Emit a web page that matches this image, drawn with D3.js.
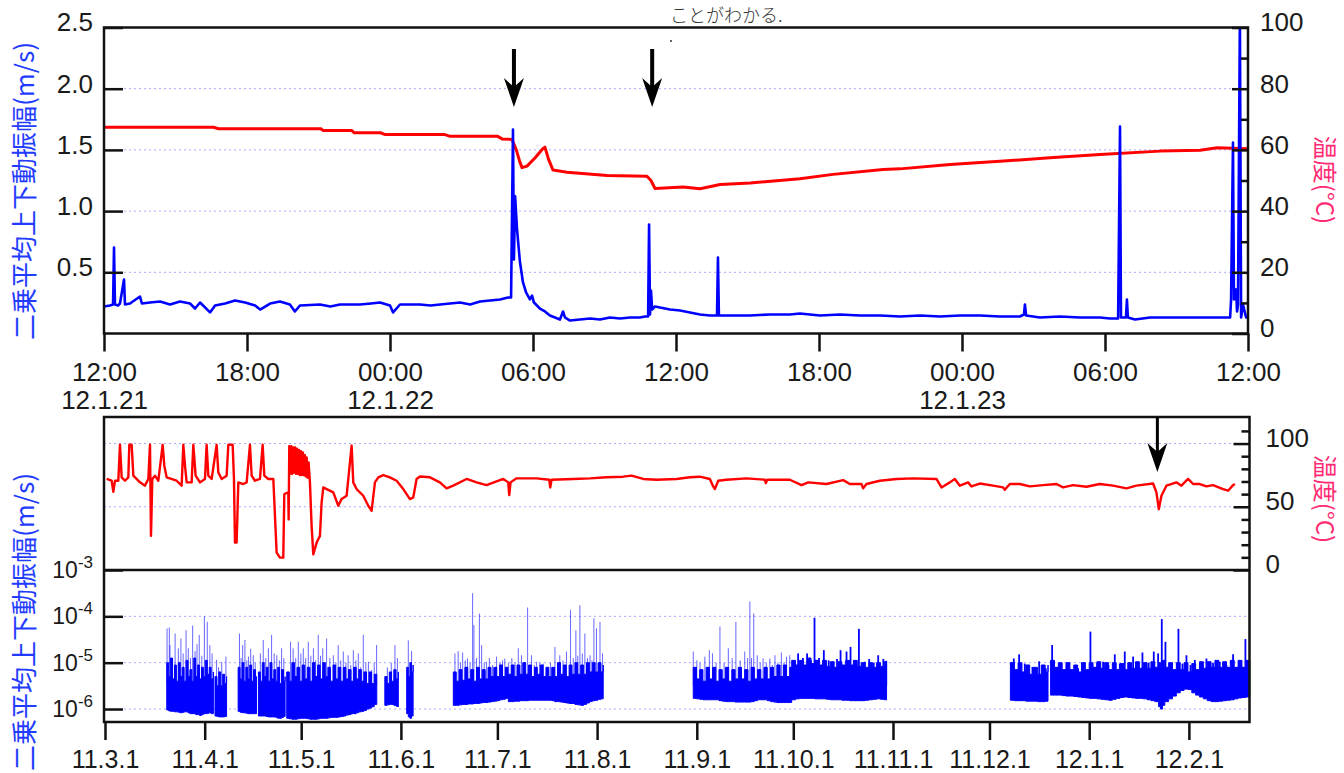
<!DOCTYPE html>
<html>
<head>
<meta charset="utf-8">
<script src="https://cdn.jsdelivr.net/npm/d3@7"></script>
<style>
  body { margin: 0; background: #fff; }
  svg { display: block; }
</style>
</head>
<body>
<svg id="chart" width="1344" height="773"></svg>
<script>
// ---- top panel: 2012-01-21 12:00 -> +48 h ----
var topStart = new Date(2012, 0, 21, 12);
var topTimeLabels = ["12:00", "18:00", "00:00", "06:00", "12:00", "18:00", "00:00", "06:00", "12:00"];
var topDateLabels = ["12.1.21", "", "12.1.22", "", "", "", "12.1.23", "", ""];
var ampTicks = [0.5, 1.0, 1.5, 2.0, 2.5];
var tempTicksTop = [0, 10, 20, 30, 40, 50, 60, 70, 80, 90, 100];

// [hours from start, m/s]
var topAmp = [[0,0.22],[0.25,0.229],[0.38,0.237],[0.42,0.703],[0.46,0.237],[0.59,0.229],[0.67,0.245],[0.84,0.441],[0.88,0.237],[1.09,0.245],[1.51,0.302],[1.59,0.245],[1.93,0.253],[2.35,0.261],[2.77,0.237],[3.19,0.261],[3.61,0.245],[3.82,0.204],[4.03,0.253],[4.45,0.172],[4.66,0.229],[5.08,0.245],[5.5,0.27],[5.92,0.253],[6.34,0.229],[6.55,0.196],[6.97,0.245],[7.38,0.261],[7.8,0.237],[8.01,0.18],[8.22,0.229],[9.06,0.237],[9.5,0.221],[9.9,0.237],[10.74,0.237],[11.2,0.245],[11.58,0.253],[12.0,0.229],[12.13,0.172],[12.42,0.237],[13.26,0.237],[13.7,0.229],[14.1,0.237],[14.52,0.245],[14.94,0.253],[15.36,0.237],[15.78,0.261],[16.2,0.27],[16.62,0.278],[16.95,0.294],[17.08,0.294],[17.16,1.667],[17.2,0.605],[17.25,1.12],[17.33,0.85],[17.45,0.588],[17.58,0.417],[17.71,0.335],[17.87,0.278],[17.96,0.31],[18.04,0.253],[18.29,0.204],[18.5,0.18],[18.71,0.147],[18.92,0.131],[19.13,0.114],[19.26,0.18],[19.34,0.131],[19.55,0.106],[19.97,0.114],[20.39,0.123],[20.81,0.114],[21.23,0.131],[21.65,0.123],[22.07,0.131],[22.49,0.131],[22.7,0.139],[22.83,0.139],[22.87,0.89],[22.91,0.155],[22.95,0.351],[23.0,0.196],[23.12,0.221],[23.33,0.212],[23.75,0.196],[24.17,0.188],[24.59,0.172],[25.01,0.155],[25.43,0.147],[25.72,0.147],[25.76,0.62],[25.8,0.147],[26.27,0.147],[27.11,0.147],[27.94,0.155],[28.78,0.155],[29.2,0.163],[30.04,0.147],[30.88,0.155],[31.72,0.147],[32.56,0.147],[33.4,0.139],[34.24,0.147],[35.08,0.139],[35.92,0.147],[36.76,0.147],[37.59,0.139],[38.43,0.139],[38.6,0.155],[38.64,0.237],[38.69,0.147],[39.27,0.131],[40.11,0.139],[40.95,0.131],[41.79,0.131],[42.21,0.123],[42.55,0.123],[42.63,1.69],[42.67,0.131],[42.88,0.131],[42.92,0.278],[42.96,0.131],[43.26,0.114],[43.89,0.131],[44.73,0.131],[45.99,0.131],[46.83,0.131],[47.25,0.131],[47.29,0.278],[47.37,1.56],[47.41,0.278],[47.5,0.36],[47.54,0.18],[47.58,0.237],[47.66,2.6],[47.71,0.131],[47.79,0.237],[47.92,0.131],[48,0.131]];

// [hours from start, deg C]
var topTemp = [[0,67.4],[4.6,67.4],[4.8,66.9],[9.1,66.9],[9.2,66.3],[10.4,66.3],[10.5,65.6],[11.6,65.6],[11.8,65.0],[14.3,65.0],[14.5,64.5],[16.5,64.5],[16.7,63.6],[17.12,63.4],[17.3,60.0],[17.45,56.0],[17.54,54.2],[17.75,54.7],[18.1,57.5],[18.4,60.3],[18.5,60.9],[18.65,57.0],[18.84,53.4],[19.43,52.7],[21.11,51.6],[22.78,51.4],[22.95,50.0],[23.12,47.4],[24.3,47.9],[25.01,47.3],[25.85,48.7],[27.11,49.2],[29.2,50.6],[30.59,52.0],[32.69,53.6],[33.4,53.8],[35.5,55.2],[37.59,56.3],[39.69,57.4],[41.79,58.5],[44.31,59.6],[45.99,59.9],[46.7,60.7],[48,60.4]];

var arrowHours = [17.2, 23.0];

// ---- bottom panel: 2011-03-01 -> +356 days ----
var longStart = new Date(2011, 2, 1);
var longTickLabels = ["11.3.1", "11.4.1", "11.5.1", "11.6.1", "11.7.1", "11.8.1", "11.9.1", "11.10.1", "11.11.1", "11.12.1", "12.1.1", "12.2.1"];
var logTicks = [-3, -4, -5, -6];
var tempTicksLong = [0, 10, 20, 30, 40, 50, 60, 70, 80, 90, 100, 110];

// [days from start, deg C]
var longTemp = [[0.52,72],[2.07,70.6],[2.59,61.9],[3.11,70.6],[4.14,70.6],[4.66,99],[5.18,73.3],[6.22,70.6],[7.25,73.3],[7.56,99],[8.29,99],[8.81,74.6],[10.88,69.3],[12.43,66.7],[13.47,72],[13.99,99],[14.3,27],[14.71,72],[15.54,74.6],[16.58,70.6],[17.93,99],[18.44,82.5],[19.17,73.3],[22.28,70.6],[23.83,66.7],[24.35,99],[24.87,82.5],[25.39,69.3],[26.94,69.3],[27.46,99],[28.18,74.6],[29.53,69.3],[31.08,72],[31.6,99],[32.12,74.6],[33.16,72],[34.71,99],[35.23,77.2],[36.27,72],[37.82,74.6],[38.34,99],[39.69,99],[40.1,72],[40.41,21.7],[40.93,21.7],[41.45,69.3],[43.0,68],[44.04,69.3],[45.07,99],[45.59,74.6],[46.63,70.6],[48.18,72],[49.01,99],[49.53,74.6],[50.77,72],[52.33,72],[53.36,13.8],[54.4,9.8],[55.43,9.8],[55.75,60.1],[56.99,61.4],[57.1,40],[57.2,70],[57.3,98],[57.6,76],[57.9,98],[58.2,76],[58.5,97],[58.8,77],[59.1,97],[59.4,76],[59.7,96],[60.0,76],[60.3,95],[60.6,75],[60.9,94],[61.2,75],[61.5,93],[61.8,75],[62.1,91],[62.4,74],[62.7,89],[63.0,73],[63.3,85],[63.72,69.3],[64.24,34.9],[64.76,12.4],[65.8,21.7],[66.83,27],[67.35,53.4],[67.87,65.3],[68.91,64],[70.98,61.4],[72.53,50.8],[73.57,56.1],[75.12,58.7],[76.68,98.4],[77.19,69.3],[78.23,64],[80.3,58.7],[81.86,50.8],[82.89,46.8],[83.93,69.3],[84.97,73.3],[86.52,75.1],[88.59,73.3],[90.66,70.6],[92.74,64],[94.81,56.1],[95.84,57.4],[96.88,72],[97.92,74],[101.03,73.3],[104.13,69.3],[106.21,64.6],[108.28,66.7],[112.42,72],[115.53,69.3],[118.64,67.1],[123.82,72],[125.38,69.3],[125.69,59.2],[126.1,69.3],[127.97,72.5],[134.18,72.5],[138.12,71.4],[138.43,65.3],[138.85,71.4],[145.58,72],[150.76,72.5],[155.94,73.3],[161.12,73.8],[163.71,74.6],[167.34,72],[171.49,71.4],[177.7,72],[181.85,73.3],[184.95,73.8],[188.06,72],[189.1,66.1],[189.62,64],[190.65,70.6],[193.24,71.4],[199.46,72.5],[205.16,71.4],[205.47,68.7],[205.89,71.4],[212.93,71.4],[216.56,67.1],[218.63,69.3],[224.33,68],[229.51,71.1],[231.58,68],[235.21,68],[235.72,64.6],[236.76,68],[240.91,70.6],[246.09,72],[251.27,72.5],[258.52,72],[260.08,65.3],[262.67,69.3],[264.22,72],[265.78,66.7],[268.37,69.3],[269.4,66.1],[271.99,68.4],[276.14,66.7],[279.24,65.3],[279.76,63.4],[281.32,68],[284.43,68],[287.53,66.1],[291.68,67.1],[295.83,68],[297.89,65.3],[301.0,67.1],[305.15,65.8],[309.29,68],[313.44,66.7],[317.58,64.6],[320.69,66.7],[325.87,68.4],[326.91,61.4],[327.64,48.1],[328.46,58.7],[330.02,66.7],[333.13,69.3],[334.68,66.7],[336.75,72],[338.31,68],[340.38,68],[342.45,66.1],[344.52,67.1],[347.63,64],[349.18,62.7],[350.74,67.1],[351.3,68]];

// recording blocks: [day, log10 lower edge, log10 top of dense part]
var ampBands = [
  [[19.2,-6.02,-5.0],[19.8,-6.04,-5.3],[20.4,-6.05,-4.9],[21.0,-6.05,-5.35],[21.6,-6.06,-5.05],[22.2,-6.06,-5.4],[22.8,-6.07,-5.0],[23.4,-6.08,-5.3],[24.0,-6.07,-5.1],[24.6,-6.06,-5.4],[25.2,-6.06,-4.95],[25.8,-6.08,-5.3],[26.4,-6.1,-5.15],[27.0,-6.1,-5.4],[27.6,-6.1,-4.9],[28.2,-6.12,-5.3],[28.8,-6.12,-5.05],[29.4,-6.14,-5.35],[30.0,-6.12,-5.1],[30.6,-6.1,-5.3],[31.2,-6.1,-4.95],[31.8,-6.09,-5.25],[32.4,-6.08,-5.1],[33.0,-6.1,-5.35],[33.7,-6.1,-5.2]],
  [[34.2,-6.15,-5.3],[34.8,-6.16,-5.5],[35.4,-6.17,-5.2],[36.0,-6.17,-5.5],[36.6,-6.17,-5.25],[37.2,-6.16,-5.45],[37.8,-6.15,-5.3]],
  [[41.4,-6.05,-5.1],[42.0,-6.07,-5.35],[42.6,-6.08,-5.0],[43.2,-6.08,-5.4],[43.8,-6.09,-5.1],[44.4,-6.1,-5.35],[45.0,-6.1,-5.05],[45.6,-6.1,-5.4],[46.2,-6.1,-5.15],[46.8,-6.1,-5.4],[47.1,-6.1,-5.3]],
  [[47.7,-6.15,-5.2],[48.3,-6.15,-5.4],[48.9,-6.15,-5.0],[49.5,-6.15,-5.3],[50.1,-6.16,-5.1],[50.7,-6.17,-5.4],[51.3,-6.17,-5.0],[51.9,-6.17,-5.35],[52.5,-6.17,-5.15],[53.1,-6.18,-5.4],[53.7,-6.2,-5.1],[54.3,-6.2,-5.45],[54.9,-6.18,-5.15],[55.5,-6.16,-5.4],[56.0,-6.15,-5.3]],
  [[56.5,-6.2,-5.2],[57.3,-6.21,-5.4],[58.1,-6.22,-5.0],[58.9,-6.22,-5.3],[59.7,-6.21,-5.1],[60.5,-6.2,-5.4],[61.3,-6.2,-5.05],[62.1,-6.2,-5.35],[62.9,-6.21,-5.1],[63.7,-6.22,-5.4],[64.5,-6.22,-5.0],[65.3,-6.22,-5.3],[66.1,-6.21,-5.05],[66.9,-6.2,-5.35],[67.7,-6.2,-5.0],[68.5,-6.2,-5.3],[69.3,-6.19,-5.1],[70.1,-6.18,-5.4],[70.9,-6.18,-5.05],[71.7,-6.18,-5.35],[72.5,-6.17,-5.1],[73.3,-6.16,-5.4],[74.1,-6.15,-5.1],[74.9,-6.13,-5.35],[75.7,-6.12,-5.15],[76.5,-6.1,-5.4],[77.3,-6.1,-5.1],[78.1,-6.08,-5.35],[78.9,-6.06,-5.15],[79.7,-6.05,-5.4],[80.5,-6.03,-5.2],[81.3,-6.0,-5.45],[82.1,-5.98,-5.2],[82.9,-5.95,-5.45],[83.7,-5.9,-5.25],[84.5,-5.85,-5.4]],
  [[87.0,-5.92,-5.3],[87.7,-5.91,-5.45],[88.4,-5.9,-5.2],[89.1,-5.9,-5.4],[89.8,-5.92,-5.15],[90.5,-5.94,-5.35],[91.2,-5.95,-5.2]],
  [[93.8,-6.1,-5.1],[94.3,-6.17,-5.3],[94.8,-6.2,-5.0],[95.3,-6.15,-5.2],[95.8,-6.1,-5.05]],
  [[108.3,-5.92,-5.2],[109.2,-5.92,-5.4],[110.1,-5.91,-5.15],[111.0,-5.9,-5.38],[111.9,-5.9,-5.1],[112.8,-5.89,-5.35],[113.7,-5.89,-5.15],[114.6,-5.88,-5.4],[115.5,-5.88,-5.1],[116.4,-5.87,-5.35],[117.3,-5.86,-5.15],[118.2,-5.86,-5.35],[119.1,-5.85,-5.1],[120.0,-5.84,-5.3],[120.9,-5.83,-5.1],[121.8,-5.82,-5.3],[122.7,-5.8,-5.05],[123.6,-5.79,-5.3],[124.5,-5.77,-5.1],[125.3,-5.77,-5.25],[125.4,-5.84,-5.25],[126.3,-5.84,-5.05],[127.2,-5.83,-5.3],[128.1,-5.83,-5.05],[129.0,-5.82,-5.25],[129.9,-5.82,-5.0],[130.8,-5.82,-5.25],[131.7,-5.81,-5.05],[132.6,-5.81,-5.3],[133.5,-5.81,-5.1],[134.4,-5.81,-5.25],[135.3,-5.81,-5.05],[136.2,-5.81,-5.3],[137.1,-5.81,-5.1],[138.0,-5.81,-5.3],[138.9,-5.82,-5.1],[139.8,-5.84,-5.3],[140.7,-5.84,-5.0],[141.6,-5.85,-5.25],[142.5,-5.86,-5.05],[143.4,-5.87,-5.3],[144.3,-5.88,-5.05],[145.2,-5.88,-5.25],[146.1,-5.9,-5.0],[147.0,-5.91,-5.25],[147.9,-5.92,-5.05],[148.8,-5.9,-5.25],[149.7,-5.87,-5.0],[150.6,-5.84,-5.2],[151.5,-5.82,-5.0],[152.4,-5.81,-5.2],[153.3,-5.79,-5.0],[154.2,-5.78,-5.2],[154.9,-5.77,-5.05]],
  [[182.9,-5.77,-5.1],[183.9,-5.78,-5.35],[184.9,-5.79,-5.15],[185.9,-5.8,-5.4],[186.9,-5.8,-5.1],[187.9,-5.8,-5.35],[188.9,-5.8,-5.1],[189.9,-5.8,-5.4],[190.9,-5.82,-5.15],[191.9,-5.83,-5.35],[192.9,-5.84,-5.1],[193.9,-5.84,-5.4],[194.9,-5.84,-5.15],[195.9,-5.85,-5.35],[196.9,-5.85,-5.1],[197.9,-5.85,-5.35],[198.9,-5.85,-5.15],[199.9,-5.85,-5.4],[200.9,-5.84,-5.1],[201.9,-5.82,-5.35],[202.9,-5.8,-5.15],[203.9,-5.8,-5.35],[204.9,-5.8,-5.1],[205.9,-5.82,-5.35],[206.9,-5.84,-5.1],[207.9,-5.85,-5.3],[208.9,-5.86,-5.05],[209.9,-5.86,-5.3],[210.9,-5.86,-5.05],[211.9,-5.86,-5.3],[212.9,-5.86,-5.1],[213.4,-5.86,-5.3],
   [213.5,-5.8,-4.95],[214.7,-5.78,-5.05],[215.9,-5.77,-4.95],[217.1,-5.77,-5.05],[218.3,-5.77,-4.9],[219.5,-5.77,-5.02],[220.7,-5.78,-4.95],[221.9,-5.78,-5.05],[223.1,-5.78,-4.95],[224.3,-5.79,-5.08],[225.5,-5.8,-4.98],[226.7,-5.8,-5.1],[227.9,-5.8,-4.98],[229.1,-5.81,-5.05],[230.3,-5.81,-4.95],[231.5,-5.82,-5.05],[232.7,-5.82,-4.95],[233.9,-5.82,-5.08],[235.1,-5.82,-5.0],[236.3,-5.81,-5.1],[237.5,-5.8,-5.0],[238.7,-5.79,-5.1],[239.9,-5.78,-5.0],[241.1,-5.79,-5.08],[242.3,-5.8,-4.98],[243.0,-5.8,-5.0]],
  [[281.5,-5.81,-5.0],[282.7,-5.82,-5.15],[283.9,-5.82,-5.0],[285.1,-5.82,-5.2],[286.3,-5.83,-5.05],[287.5,-5.83,-5.25],[288.7,-5.83,-5.1],[289.9,-5.84,-5.25],[291.1,-5.84,-5.05],[292.3,-5.83,-5.2],[293.2,-5.81,-5.05]],
  [[294.0,-5.7,-4.95],[295.2,-5.7,-5.1],[296.4,-5.7,-5.0],[297.6,-5.71,-5.15],[298.8,-5.72,-5.0],[300.0,-5.72,-5.15],[301.2,-5.73,-5.05],[302.4,-5.74,-5.2],[303.6,-5.75,-5.0],[304.8,-5.76,-5.15],[306.0,-5.77,-5.0],[307.2,-5.77,-5.1],[308.4,-5.78,-4.98],[309.6,-5.79,-5.12],[310.8,-5.8,-5.0],[312.0,-5.81,-5.15],[313.2,-5.79,-5.0],[314.4,-5.77,-5.15],[315.6,-5.75,-5.02],[316.8,-5.74,-5.15],[318.0,-5.75,-5.0],[319.2,-5.76,-5.12],[320.4,-5.77,-4.98],[321.6,-5.77,-5.12],[322.8,-5.78,-5.0],[324.0,-5.8,-5.12],[325.2,-5.82,-4.98],[326.4,-5.84,-5.1],[327.6,-5.95,-5.0],[328.2,-6.0,-5.1],[328.8,-5.92,-4.95],[329.5,-5.84,-5.1],[330.7,-5.78,-5.0],[331.9,-5.72,-5.15],[333.1,-5.65,-5.0],[334.3,-5.6,-5.15],[335.5,-5.57,-5.0],[336.7,-5.58,-5.2],[337.9,-5.65,-5.02],[339.1,-5.7,-5.15],[340.3,-5.74,-4.98],[341.5,-5.78,-5.12],[342.7,-5.82,-4.98],[343.9,-5.84,-5.1],[345.1,-5.84,-4.95],[346.3,-5.83,-5.1],[347.5,-5.82,-4.98],[348.7,-5.81,-5.1],[349.9,-5.8,-4.95],[351.1,-5.78,-5.1],[352.3,-5.76,-4.95],[353.5,-5.75,-5.1],[354.7,-5.74,-4.95],[355.9,-5.74,-5.05]]
];

// single bursts: [day, log10 peak]
var ampSpikes = [[19.3,-4.26],[20.0,-4.24],[20.2,-4.62],[21.0,-4.9],[21.8,-4.37],[22.8,-4.69],[23.6,-4.48],[24.3,-4.8],[25.2,-4.3],[25.9,-4.69],[26.6,-4.9],[27.25,-4.2],[28.0,-4.75],[28.6,-4.6],[29.3,-4.4],[30.1,-4.85],[30.9,-4.0],[31.8,-4.12],[32.6,-4.62],[33.3,-4.8],
  [34.7,-4.94],[35.3,-5.1],[36.3,-4.98],[37.6,-4.87],
  [41.8,-4.37],[42.3,-4.9],[42.8,-4.62],[43.5,-4.51],[44.1,-4.95],[44.6,-4.87],[45.3,-4.7],[46.1,-4.84],[46.7,-5.0],
  [48.3,-4.8],[49.2,-4.51],[50.0,-4.9],[50.8,-4.69],[51.8,-4.4],[52.6,-4.8],[53.4,-4.84],[54.2,-4.95],[54.9,-4.69],[55.6,-4.9],
  [57.7,-4.55],[58.5,-4.69],[59.3,-4.9],[60.1,-4.55],[60.9,-4.8],[61.65,-4.69],[62.4,-4.9],[63.2,-4.55],[64.0,-4.85],[64.8,-4.69],[65.5,-4.95],[66.3,-4.4],[67.0,-4.85],[67.7,-4.69],[68.9,-4.48],[69.9,-4.9],[71.0,-4.84],[71.8,-5.0],[72.5,-4.62],[73.3,-4.95],[74.1,-4.76],[74.9,-5.0],[75.6,-4.84],[76.4,-5.05],[77.2,-4.73],[78.0,-4.95],[78.75,-4.8],[79.5,-5.1],[80.3,-4.4],[81.1,-5.0],[81.9,-4.98],[82.9,-5.16],[83.7,-5.0],[84.45,-4.62],
  [87.8,-5.1],[89.0,-5.0],[90.15,-4.62],[90.9,-4.9],
  [94.3,-4.52],[95.33,-4.75],
  [108.8,-4.8],[109.8,-4.75],[110.5,-5.0],[111.2,-4.78],[112.0,-4.95],[112.7,-4.91],[113.5,-5.0],[114.3,-3.5],[114.7,-4.19],[115.5,-4.9],[116.4,-3.94],[117.1,-4.62],[117.9,-5.0],[118.6,-4.98],[119.5,-4.9],[120.5,-5.05],[121.75,-4.87],[122.8,-5.0],[123.6,-4.95],[124.3,-4.91],[125.5,-5.0],[126.5,-4.9],[127.5,-5.0],[128.5,-4.69],[129.5,-4.84],[130.5,-5.0],[131.4,-3.81],[132.6,-4.84],[133.5,-5.05],[134.2,-4.98],[135.2,-5.0],[136.3,-5.02],[137.3,-5.1],[138.5,-5.0],[139.9,-4.66],[140.7,-5.0],[141.4,-4.84],[142.4,-4.95],[143.5,-4.76],[144.75,-3.86],[145.6,-4.9],[146.4,-4.3],[147.0,-4.85],[147.65,-3.76],[148.4,-4.8],[149.2,-4.37],[150.0,-4.9],[150.8,-4.84],[151.4,-4.95],[152.0,-4.04],[152.8,-4.26],[153.9,-4.12],[154.7,-4.8],
  [182.9,-4.76],[184.0,-4.95],[185.0,-5.0],[186.5,-4.87],[187.9,-4.73],[188.9,-4.8],[190.0,-5.0],[191.2,-4.22],[192.5,-5.0],[193.8,-4.69],[195.0,-4.9],[196.15,-4.12],[197.5,-4.95],[198.9,-4.76],[199.8,-4.9],[200.5,-3.68],[201.0,-4.9],[201.7,-3.94],[202.8,-4.84],[203.7,-5.0],[204.6,-4.91],[205.6,-5.0],[206.7,-4.91],[207.5,-5.05],[208.3,-4.84],[209.2,-5.0],[210.3,-4.78],[211.1,-5.0],[211.9,-4.87],[212.9,-4.84],
  [215.5,-4.8],[217.0,-4.9],[218.3,-4.8],[219.5,-4.95],[220.6,-4.03],[222.0,-4.9],[223.5,-4.73],[225.0,-4.95],[226.4,-4.98],[227.6,-4.92],[228.7,-4.73],[230.55,-4.76],[231.8,-4.66],[233.0,-4.95],[234.4,-4.27],[236.25,-4.98],[237.6,-4.92],[239.0,-5.0],[240.4,-4.84],[242.0,-4.92],[242.9,-4.96],
  [282.56,-4.91],[284.22,-4.82],[285.98,-5.02],[288.36,-5.09],[290.44,-4.97],[292.51,-5.12],[294.48,-4.62],[296.86,-5.0],[299.0,-5.05],[302.56,-5.12],[304.5,-5.0],[306.39,-4.33],[308.5,-5.0],[310.33,-4.98],[312.0,-5.05],[313.96,-4.82],[315.5,-5.02],[317.06,-4.76],[318.5,-5.0],[319.66,-4.87],[321.0,-5.05],[322.56,-4.78],[324.5,-5.0],[326.08,-4.76],[327.43,-4.8],[328.57,-4.06],[329.71,-4.55],[331.5,-5.0],[333.75,-4.27],[335.0,-5.02],[336.24,-4.84],[337.5,-5.05],[338.83,-4.94],[340.4,-5.05],[342.45,-4.91],[344.5,-5.0],[346.6,-4.98],[348.67,-5.05],[350.74,-4.82],[352.81,-4.98],[354.57,-4.49],[355.71,-5.09]];

var arrowDays = [327.2];

// ------------------------------------------------------------
var svg = d3.select("#chart");
var numFont = "'Liberation Sans', Arial, sans-serif";
var cjkFont = "'Noto Sans CJK JP', 'Noto Sans', sans-serif";
var gridColor = "#a8a8ff";

var P = {left: 104, right: 1248, top: 27.5, bottom: 333.5};
var hr = function(h) { return new Date(topStart.getTime() + h * 3600000); };
var x1 = d3.scaleTime().domain([topStart, hr(48)]).range([P.left, P.right]);
var yAmp = d3.scaleLinear().domain([0, 2.5]).range([P.bottom, P.top]);
var yT1 = d3.scaleLinear().domain([0, 100]).range([P.bottom, P.top]);

var L = {left: 104, right: 1249.5, top: 417, mid: 570, bottom: 722};
var day = function(d) { return new Date(longStart.getTime() + d * 86400000); };
var x2 = d3.scaleTime().domain([longStart, day(356)]).range([105, 1250]);
var yT2 = d3.scaleLinear().domain([0, 121]).range([L.mid, L.top]);
var yLog = d3.scaleLog().domain([Math.pow(10, -6.28), 1e-3]).range([L.bottom, L.mid]);

var defs = svg.append("defs");
defs.append("clipPath").attr("id", "clipTop").append("rect")
  .attr("x", P.left).attr("y", P.top).attr("width", P.right - P.left).attr("height", P.bottom - P.top);

function styleAxis(g, size) {
  g.select(".domain").remove();
  g.selectAll(".tick line").attr("stroke", "#111").attr("stroke-width", 2.5);
  g.selectAll(".tick text").attr("font-family", numFont).attr("font-size", size).attr("fill", "#1a1a1a");
}
function hgrid(y, x0, x1_) {
  svg.append("line").attr("x1", x0).attr("x2", x1_).attr("y1", y).attr("y2", y)
    .attr("stroke", gridColor).attr("stroke-width", 1).attr("stroke-dasharray", "2,3");
}

// header fragment
svg.append("text").attr("x", 670).attr("y", 22).attr("font-family", cjkFont).attr("font-weight", 300)
  .attr("font-size", 18).attr("fill", "#333").text("ことがわかる.");
svg.append("circle").attr("cx", 671).attr("cy", 41).attr("r", 1).attr("fill", "#333");

// ---- top panel ----
[0.5, 1.0, 1.5, 2.0].forEach(function(v) { hgrid(yAmp(v), P.left, P.right); });

var gTop = svg.append("g").attr("clip-path", "url(#clipTop)");
gTop.append("path").datum(topTemp)
  .attr("d", d3.line().x(function(d) { return x1(hr(d[0])); }).y(function(d) { return yT1(d[1]); }))
  .attr("fill", "none").attr("stroke", "#ff0000").attr("stroke-width", 3).attr("stroke-linejoin", "round");
gTop.append("path").datum(topAmp)
  .attr("d", d3.line().x(function(d) { return x1(hr(d[0])); }).y(function(d) { return yAmp(d[1]); }))
  .attr("fill", "none").attr("stroke", "#0000ff").attr("stroke-width", 2.6).attr("stroke-linejoin", "round");

svg.append("rect").attr("x", P.left).attr("y", P.top).attr("width", P.right - P.left).attr("height", P.bottom - P.top)
  .attr("fill", "none").attr("stroke", "#111").attr("stroke-width", 2.5);

var topTickDates = d3.range(0, 49, 6).map(hr);
var gx1 = svg.append("g").attr("transform", "translate(0," + P.bottom + ")")
  .call(d3.axisBottom(x1).tickValues(topTickDates).tickSize(18).tickPadding(11)
    .tickFormat(function(d, i) { return topTimeLabels[i]; }));
styleAxis(gx1, 26);
gx1.selectAll(".tick").append("text")
  .attr("y", 75).attr("fill", "#1a1a1a").attr("font-family", numFont).attr("font-size", 26)
  .attr("text-anchor", "middle")
  .text(function(d, i) { return topDateLabels[i]; });

var gyA = svg.append("g").attr("transform", "translate(" + P.left + ",0)")
  .call(d3.axisLeft(yAmp).tickValues(ampTicks).tickSize(-19).tickPadding(11).tickFormat(d3.format(".1f")));
styleAxis(gyA, 26);
gyA.selectAll(".tick text").attr("dy", "0.13em");

var gyT1 = svg.append("g").attr("transform", "translate(" + P.right + ",0)")
  .call(d3.axisRight(yT1).tickValues(tempTicksTop).tickSize(-16).tickPadding(12)
    .tickFormat(function(d) { return d % 20 === 0 ? d : ""; }));
styleAxis(gyT1, 26);
gyT1.selectAll(".tick line").attr("x2", function(d) { return d % 20 === 0 ? -16 : -7; });
gyT1.selectAll(".tick text").attr("dy", "0.13em");

// ---- bottom panel ----
[50, 100].forEach(function(v) { hgrid(yT2(v), L.left, L.right); });
[-4, -5, -6].forEach(function(e) { hgrid(yLog(Math.pow(10, e)), L.left, L.right); });

svg.append("path").datum(longTemp)
  .attr("d", d3.line().x(function(d) { return x2(day(d[0])); }).y(function(d) { return yT2(d[1]); }))
  .attr("fill", "none").attr("stroke", "#ff0000").attr("stroke-width", 2.4).attr("stroke-linejoin", "round");

var bandArea = d3.area()
  .curve(d3.curveStepAfter)
  .x(function(d) { return x2(day(d[0])); })
  .y0(function(d) { return yLog(Math.pow(10, d[1])); })
  .y1(function(d) { return yLog(Math.pow(10, d[2])); });
svg.append("g").selectAll("path").data(ampBands).enter().append("path")
  .attr("d", bandArea)
  .attr("fill", "#0000ff")
  .attr("stroke", "#0000ff").attr("stroke-width", 1).attr("stroke-linejoin", "miter");

svg.append("g").selectAll("line").data(ampSpikes).enter().append("line")
  .attr("x1", function(d) { return x2(day(d[0])); })
  .attr("x2", function(d) { return x2(day(d[0])); })
  .attr("y1", yLog(Math.pow(10, -5.5)))
  .attr("y2", function(d) { return yLog(Math.pow(10, d[1])); })
  .attr("stroke", "#0000ff")
  .attr("stroke-opacity", function(d) { return d[0] < 213.4 ? 0.6 : 1; })
  .attr("stroke-width", function(d) { return d[0] < 213.4 ? 1 : 1.8; });

svg.append("rect").attr("x", L.left).attr("y", L.top).attr("width", L.right - L.left).attr("height", L.bottom - L.top)
  .attr("fill", "none").attr("stroke", "#111").attr("stroke-width", 2.5);
svg.append("line").attr("x1", L.left).attr("x2", L.right).attr("y1", L.mid).attr("y2", L.mid)
  .attr("stroke", "#111").attr("stroke-width", 2.5);

var monthTicks = d3.timeMonth.range(longStart, day(356));
var gx2 = svg.append("g").attr("transform", "translate(0," + L.bottom + ")")
  .call(d3.axisBottom(x2).tickValues(monthTicks).tickSize(18).tickPadding(10.5)
    .tickFormat(function(d, i) { return longTickLabels[i]; }));
styleAxis(gx2, 25);

var gyL = svg.append("g").attr("transform", "translate(" + L.left + ",0)")
  .call(d3.axisLeft(yLog).tickValues(logTicks.map(function(e) { return Math.pow(10, e); }))
    .tickSize(-19).tickPadding(11).tickFormat(""));
styleAxis(gyL, 23);
gyL.selectAll(".tick text").each(function(d) {
  var t = d3.select(this);
  t.append("tspan").text("10");
  t.append("tspan").attr("dy", -10).attr("font-size", 17).text(String(Math.round(Math.log10(d))));
});

var gyT2 = svg.append("g").attr("transform", "translate(" + L.right + ",0)")
  .call(d3.axisRight(yT2).tickValues(tempTicksLong).tickSize(-16).tickPadding(16)
    .tickFormat(function(d) { return d % 50 === 0 ? d : ""; }));
styleAxis(gyT2, 26);
gyT2.selectAll(".tick line").attr("x2", function(d) { return d % 50 === 0 ? -16 : -8; });
gyT2.selectAll(".tick text").attr("dy", "0.1em");

// arrows
function arrow(x, yTop, yTip, w) {
  svg.append("line").attr("x1", x).attr("x2", x).attr("y1", yTop).attr("y2", yTip - 20)
    .attr("stroke", "#000").attr("stroke-width", w);
  svg.append("path")
    .attr("d", "M" + x + "," + yTip + " L" + (x - 10) + "," + (yTip - 29) + " L" + x + "," + (yTip - 20) +
      " L" + (x + 10) + "," + (yTip - 29) + " Z")
    .attr("fill", "#000");
}
arrowHours.forEach(function(h) { arrow(x1(hr(h)), 49, 107, 4); });
arrowDays.forEach(function(d) { arrow(x2(day(d)), 417, 472, 3); });

// axis titles
function vtitle(x, y, rot, txt, color, size) {
  svg.append("text").attr("transform", "translate(" + x + "," + y + ") rotate(" + rot + ")")
    .attr("text-anchor", "middle").attr("dominant-baseline", "central")
    .attr("font-family", cjkFont).attr("font-size", size).attr("fill", color).text(txt);
}
vtitle(22, 191, -90, "二乗平均上下動振幅(m/s)", "#1f3cff", 26);
vtitle(22, 622, -90, "二乗平均上下動振幅(m/s)", "#1f3cff", 26);
vtitle(1326, 180, 90, "温度(°C)", "#ff2a73", 24);
vtitle(1326, 499, 90, "温度(°C)", "#ff2a73", 24);
</script>
</body>
</html>
